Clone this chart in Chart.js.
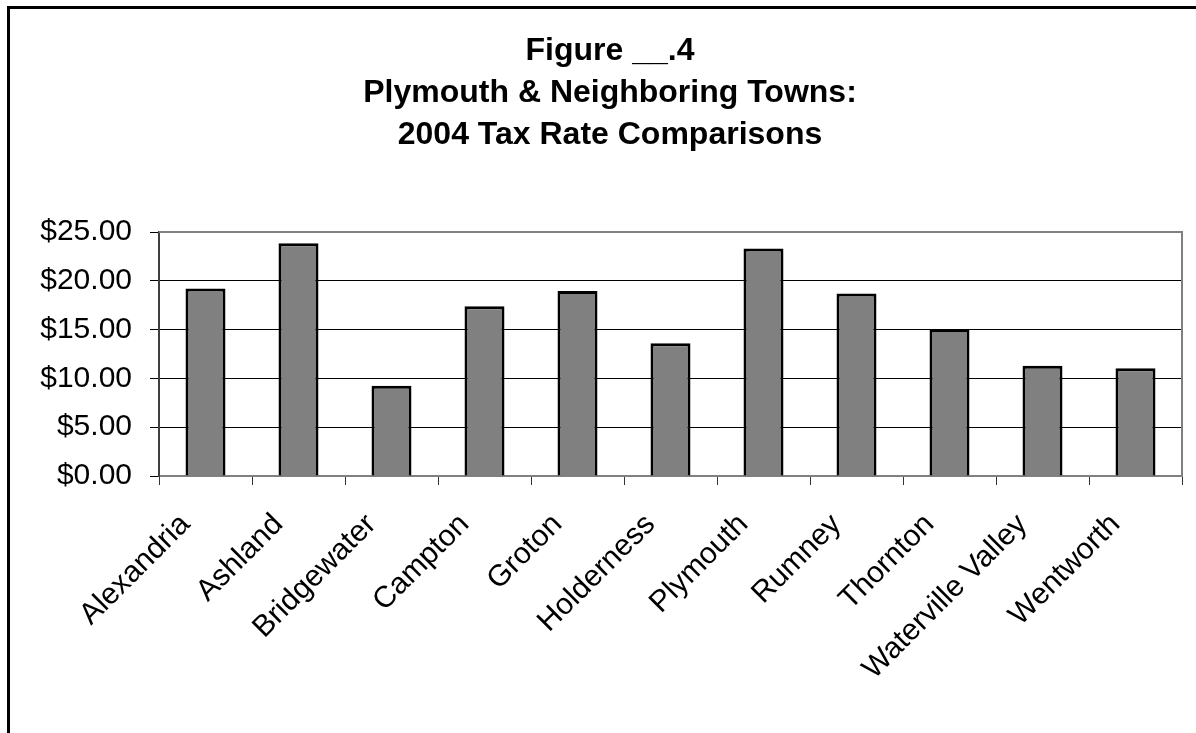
<!DOCTYPE html>
<html>
<head>
<meta charset="utf-8">
<title>2004 Tax Rate Comparisons</title>
<script src="https://cdn.jsdelivr.net/npm/chart.js@4/dist/chart.umd.min.js"></script>
<style>
  html, body { margin: 0; padding: 0; background: #fff; overflow: hidden; }
  #frame {
    position: absolute; left: 7px; top: 6px;
    width: 1400px; height: 900px;
    border: 3px solid #000;
  }
  #wrap { position: absolute; left: 0; top: 0; width: 1196px; height: 733px; }
</style>
</head>
<body>
<div id="frame"></div>
<div id="wrap"><canvas id="tax-chart"></canvas></div>
<script>
const TOWNS = [
  "Alexandria",
  "Ashland",
  "Bridgewater",
  "Campton",
  "Groton",
  "Holderness",
  "Plymouth",
  "Rumney",
  "Thornton",
  "Waterville Valley",
  "Wentworth",
];

const TAX_RATES = [19.2, 23.85, 9.25, 17.4, 18.95, 13.6, 23.3, 18.7, 15.05, 11.3, 11.05];

const TITLE_LINES = [
  "Figure __.4",
  "Plymouth & Neighboring Towns:",
  "2004 Tax Rate Comparisons",
];

const FONT = "'Liberation Sans', Arial, sans-serif";

function money(v) {
  return "$" + Number(v).toFixed(2);
}

// gray frame on the top and right of the plot area
const plotFrame = {
  id: "plotFrame",
  afterDatasetsDraw(chart) {
    const { ctx, chartArea: a } = chart;
    ctx.save();
    ctx.strokeStyle = "#808080";
    ctx.lineWidth = 2;
    ctx.beginPath();
    ctx.moveTo(a.left, a.top);
    ctx.lineTo(a.right, a.top);
    ctx.lineTo(a.right, a.bottom);
    ctx.stroke();
    ctx.restore();
  },
};

const ctx = document.getElementById("tax-chart");
new Chart(ctx, {
  type: "bar",
  data: {
    labels: TOWNS,
    datasets: [{
      label: "2004 Tax Rate",
      data: TAX_RATES,
      backgroundColor: "#808080",
      borderColor: "#000",
      borderWidth: 3,
      barPercentage: 0.43,
      categoryPercentage: 1,
    }],
  },
  options: {
    responsive: true,
    maintainAspectRatio: false,
    animation: false,
    layout: { padding: { left: 38, right: 14, top: 24, bottom: 0 } },
    plugins: {
      legend: { display: false },
      tooltip: { enabled: false },
      title: {
        display: true,
        text: TITLE_LINES,
        color: "#000",
        font: { family: FONT, size: 32, weight: "bold", lineHeight: 1.3125 },
        padding: { top: 6, bottom: 76 },
      },
    },
    scales: {
      x: {
        grid: {
          offset: true,
          drawOnChartArea: false,
          drawTicks: true,
          tickLength: 9,
          tickColor: "#333",
          tickWidth: 1,
        },
        border: { color: "#808080", width: 2 },
        ticks: {
          color: "#000",
          font: { family: FONT, size: 30 },
          minRotation: 45,
          maxRotation: 45,
          autoSkip: false,
          padding: 22,
          labelOffset: -20,
        },
        afterFit(scale) { scale.height = 257; },
      },
      y: {
        min: 0,
        max: 25,
        ticks: {
          stepSize: 5,
          color: "#000",
          font: { family: FONT, size: 30 },
          padding: 18,
          callback: (v) => money(v),
        },
        grid: {
          color: (c) => (c.tick && c.tick.value === 25 ? "#808080" : "#000"),
          lineWidth: 1,
          tickLength: 9,
          tickColor: "#000",
        },
        border: { color: "#404040", width: 2 },
        afterFit(scale) { scale.width = 121; },
      },
    },
  },
  plugins: [plotFrame],
});
</script>
</body>
</html>
